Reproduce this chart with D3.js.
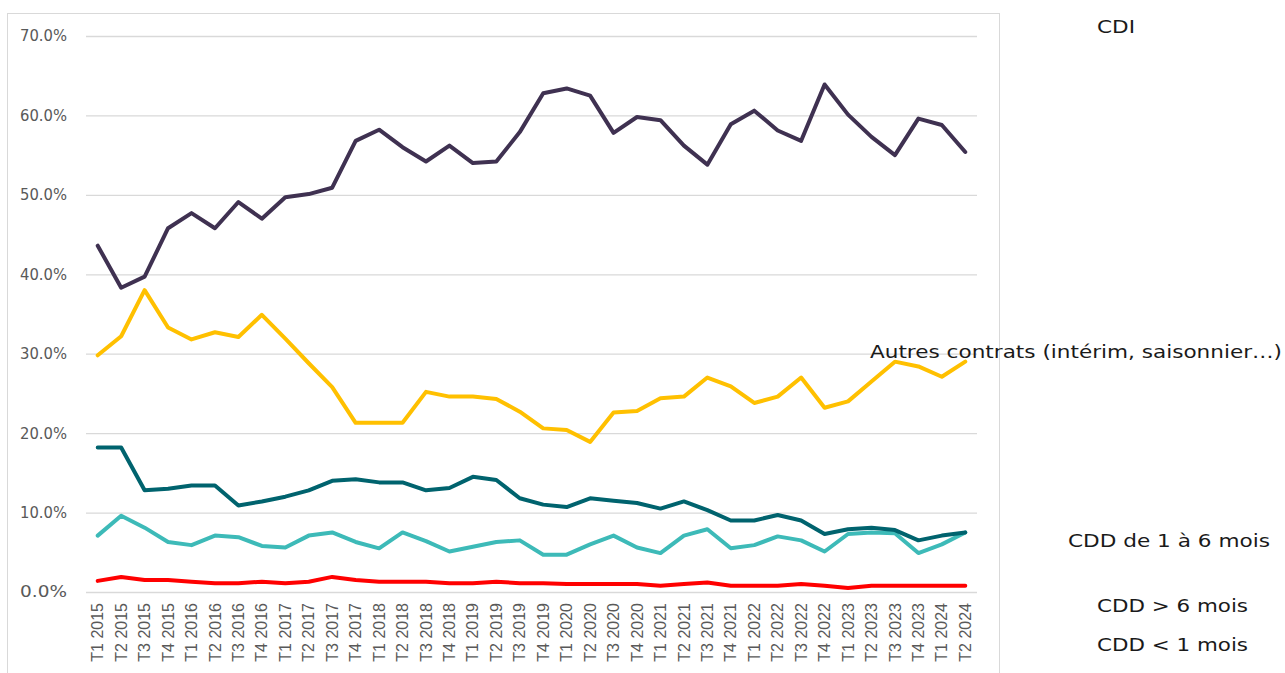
<!DOCTYPE html>
<html>
<head>
<meta charset="utf-8">
<script src="https://cdn.jsdelivr.net/npm/d3@7"></script>
<style>
  body { margin: 0; background: #fff; }
  svg { display: block; }
</style>
</head>
<body>
<svg width="1285" height="673"></svg>
<script>
var quarters = ["T1 2015","T2 2015","T3 2015","T4 2015","T1 2016","T2 2016","T3 2016","T4 2016",
  "T1 2017","T2 2017","T3 2017","T4 2017","T1 2018","T2 2018","T3 2018","T4 2018",
  "T1 2019","T2 2019","T3 2019","T4 2019","T1 2020","T2 2020","T3 2020","T4 2020",
  "T1 2021","T2 2021","T3 2021","T4 2021","T1 2022","T2 2022","T3 2022","T4 2022",
  "T1 2023","T2 2023","T3 2023","T4 2023","T1 2024","T2 2024"];

// shares in %
var cdi = [43.6,38.3,39.7,45.8,47.7,45.8,49.1,47.0,49.7,50.1,50.9,56.8,58.2,56.0,54.2,56.2,
  54.0,54.2,57.9,62.8,63.4,62.5,57.8,59.8,59.4,56.2,53.8,58.9,60.6,58.1,56.8,63.9,
  60.1,57.3,55.0,59.6,58.8,55.4];
var autres = [29.8,32.2,38.0,33.3,31.8,32.7,32.1,34.9,31.9,28.8,25.8,21.3,21.3,21.3,25.2,24.6,
  24.6,24.3,22.7,20.6,20.4,18.9,22.6,22.8,24.4,24.6,27.0,25.9,23.8,24.6,27.0,23.2,
  24.0,26.5,29.0,28.4,27.1,29.0];
var cdd1a6 = [18.2,18.2,12.8,13.0,13.4,13.4,10.9,11.4,12.0,12.8,14.0,14.2,13.8,13.8,12.8,13.1,
  14.5,14.1,11.8,11.0,10.7,11.8,11.5,11.2,10.5,11.4,10.3,9.0,9.0,9.7,9.0,7.3,
  7.9,8.1,7.8,6.5,7.1,7.5];
var cddPlus6 = [7.1,9.6,8.1,6.3,5.9,7.1,6.9,5.8,5.6,7.1,7.5,6.3,5.5,7.5,6.4,5.1,
  5.7,6.3,6.5,4.7,4.7,6.0,7.1,5.6,4.9,7.1,7.9,5.5,5.9,7.0,6.5,5.1,
  7.3,7.5,7.4,4.9,6.0,7.5];
var cddMoins1 = [1.4,1.9,1.5,1.5,1.3,1.1,1.1,1.3,1.1,1.3,1.9,1.5,1.3,1.3,1.3,1.1,
  1.1,1.3,1.1,1.1,1.0,1.0,1.0,1.0,0.8,1.0,1.2,0.8,0.8,0.8,1.0,0.8,
  0.5,0.8,0.8,0.8,0.8,0.8];

var yTicks = [0, 0.1, 0.2, 0.3, 0.4, 0.5, 0.6, 0.7];

var series = [
  { name: "CDD < 1 mois", values: cddMoins1, color: "#ff0000" },
  { name: "CDD > 6 mois", values: cddPlus6, color: "#3dbab8" },
  { name: "CDD de 1 à 6 mois", values: cdd1a6, color: "#00636e" },
  { name: "Autres contrats (intérim, saisonnier…)", values: autres, color: "#ffc000" },
  { name: "CDI", values: cdi, color: "#3f3151" }
];

// labels on the right, as placed in the original
var labels = [
  { text: "CDI", x: 1097, y: 27, w: 38 },
  { text: "Autres contrats (intérim, saisonnier…)", x: 870, y: 352, w: 412 },
  { text: "CDD de 1 à 6 mois", x: 1068, y: 541, w: 202 },
  { text: "CDD > 6 mois", x: 1097, y: 606, w: 151 },
  { text: "CDD < 1 mois", x: 1097, y: 645, w: 151 }
];

var svg = d3.select("svg");
var plot = { left: 86, right: 977, top: 36, bottom: 592 };

// frame
svg.append("rect")
  .attr("x", 7.5).attr("y", 13.5)
  .attr("width", 992).attr("height", 700)
  .attr("fill", "none").attr("stroke", "#d9d9d9");

var x = d3.scaleBand().domain(quarters).range([plot.left, plot.right]).padding(0);
var y = d3.scaleLinear().domain([0, 0.7]).range([plot.bottom, plot.top]);

var yAxis = svg.append("g")
  .attr("transform", "translate(" + plot.left + ",0)")
  .call(d3.axisLeft(y).tickValues(yTicks).tickFormat(d3.format(".1%"))
    .tickSizeInner(-(plot.right - plot.left)).tickSizeOuter(0).tickPadding(19));
yAxis.select(".domain").remove();
yAxis.selectAll(".tick line").attr("stroke", "#d9d9d9").attr("stroke-width", 1.3);
yAxis.selectAll(".tick text")
  .attr("fill", "#595959")
  .attr("font-family", "'DejaVu Sans', sans-serif")
  .attr("font-size", 15.5)
  .attr("textLength", 47)
  .attr("lengthAdjust", "spacingAndGlyphs");

var xAxis = svg.append("g")
  .attr("transform", "translate(0," + plot.bottom + ")")
  .call(d3.axisBottom(x).tickSize(0));
xAxis.select(".domain").remove();
xAxis.selectAll(".tick text")
  .attr("fill", "#595959")
  .attr("font-family", "'Liberation Sans', Arial, sans-serif")
  .attr("font-size", 16)
  .attr("text-anchor", "end")
  .attr("transform", "rotate(-90)")
  .attr("x", -11)
  .attr("y", 0)
  .attr("dy", "0.35em");

var line = d3.line()
  .x(function(d, i) { return x(quarters[i]) + x.bandwidth() / 2; })
  .y(function(d) { return y(d / 100); });

svg.selectAll(".serie")
  .data(series)
  .enter().append("path")
  .attr("class", "serie")
  .attr("d", function(d) { return line(d.values); })
  .attr("fill", "none")
  .attr("stroke", function(d) { return d.color; })
  .attr("stroke-width", 4)
  .attr("stroke-linejoin", "round")
  .attr("stroke-linecap", "round");

svg.selectAll(".lbl")
  .data(labels)
  .enter().append("text")
  .attr("class", "lbl")
  .attr("x", function(d) { return d.x; })
  .attr("y", function(d) { return d.y; })
  .attr("dy", "0.35em")
  .attr("textLength", function(d) { return d.w; })
  .attr("lengthAdjust", "spacingAndGlyphs")
  .attr("fill", "#1a1a1a")
  .attr("font-family", "'DejaVu Sans', sans-serif")
  .attr("font-size", 18)
  .text(function(d) { return d.text; });
</script>
</body>
</html>
